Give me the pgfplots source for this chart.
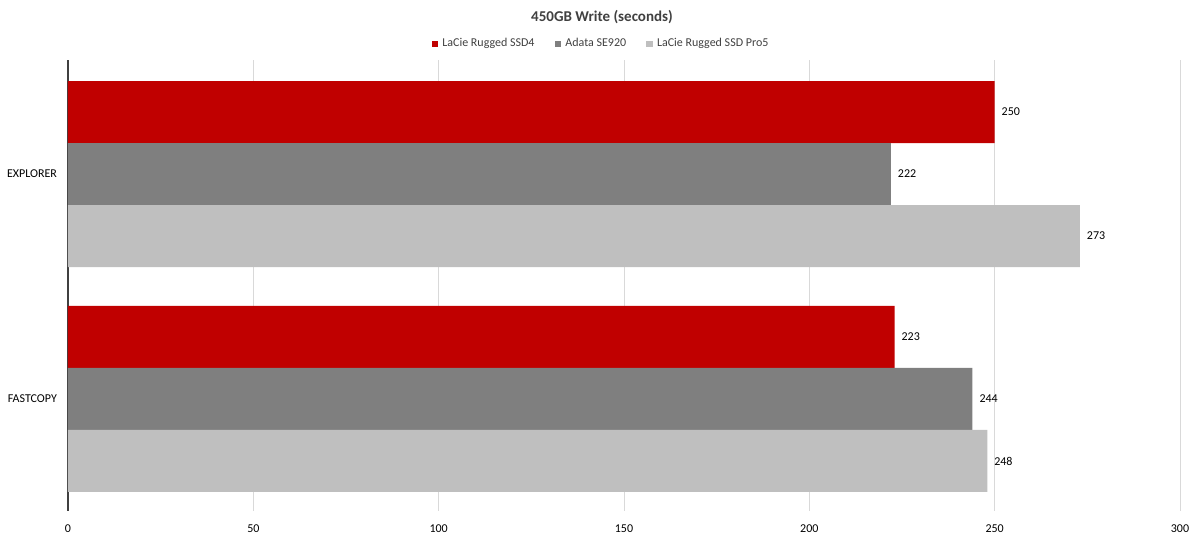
\documentclass[border=0pt]{standalone}
\usepackage{fontspec}
\setmainfont{Carlito}
\usepackage{pgfplots}
\pgfplotsset{compat=1.18}
\definecolor{cRed}{HTML}{C00000}
\definecolor{cDark}{HTML}{7F7F7F}
\definecolor{cLight}{HTML}{BFBFBF}
\definecolor{cGrid}{HTML}{D9D9D9}
\definecolor{cText}{HTML}{404040}
\begin{document}
\begin{tikzpicture}
\path[use as bounding box] (-34pt,-14.5pt) rectangle (566pt,255.5pt);
\begin{axis}[
  at={(0pt,0pt)}, anchor=south west,
  scale only axis, width=556pt, height=225.5pt,
  xbar, bar width=0.2756,
  xmin=0, xmax=300, ymin=-0.498, ymax=1.507,
  xtick={0,50,...,300},
  ytick={0,1}, yticklabels={FASTCOPY,EXPLORER},
  /pgf/number format/assume math mode=true,
  tick label style={font=\fontsize{6}{7}\selectfont, text=black},
  major tick length=0pt,
  xmajorgrids, grid style={cGrid, line width=0.5pt},
  axis lines*=left,
  x axis line style={draw=none},
  y axis line style={draw=cText, line width=0.6pt},
  xticklabel style={yshift=-3.5pt},
  yticklabel style={xshift=-2pt},
  nodes near coords,
  every node near coord/.append style={font=\fontsize{6}{7}\selectfont, text=black},
  legend style={at={(0.5,1)}, anchor=south, yshift=1pt, xshift=-11pt, draw=none, fill=none,
    legend columns=3, font=\fontsize{6}{7}\selectfont, text=cText,
    /tikz/every even column/.append style={column sep=8pt}},
  legend image code/.code={\fill[#1] (0pt,-1.7pt) rectangle (3.4pt,1.7pt);},
  clip=false,
]
\addplot[fill=cRed, draw=none, bar shift=0.2756] coordinates {(250,1) (223,0)};
\addplot[fill=cDark, draw=none, bar shift=0] coordinates {(222,1) (244,0)};
\addplot[fill=cLight, draw=none, bar shift=-0.2756] coordinates {(273,1) (248,0)};
\legend{LaCie Rugged SSD4, Adata SE920, LaCie Rugged SSD Pro5}
\node[font=\bfseries\fontsize{7.5}{9}\selectfont, text=cText] at (rel axis cs:0.5,1) [yshift=21.5pt, xshift=-11pt] {450GB Write (seconds)};
\end{axis}
\end{tikzpicture}
\end{document}
